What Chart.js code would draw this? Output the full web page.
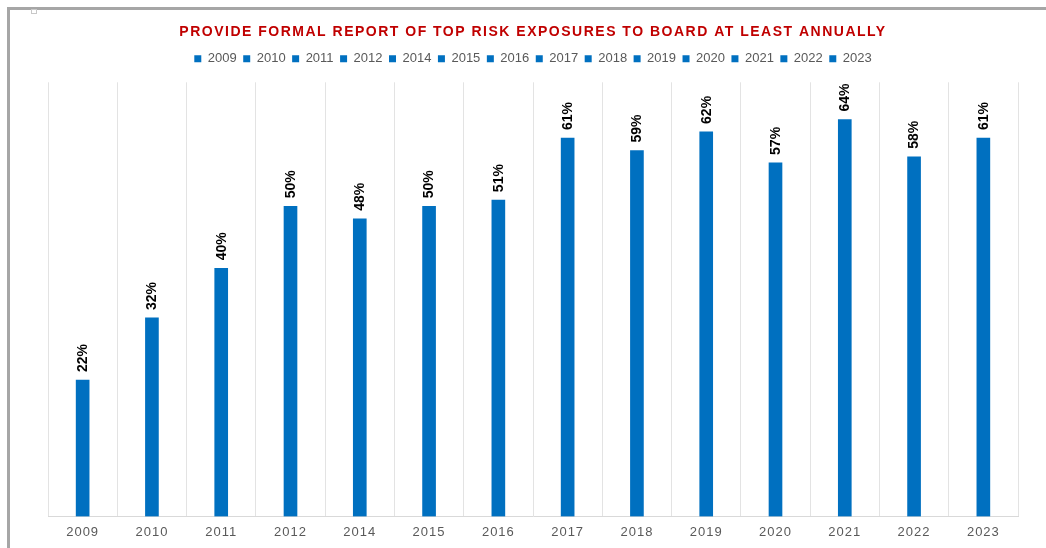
<!DOCTYPE html>
<html>
<head>
<meta charset="utf-8">
<script src="https://cdn.jsdelivr.net/npm/chart.js@4/dist/chart.umd.min.js"></script>
<style>
  html, body { margin: 0; padding: 0; background: #fff; }
  #wrap { position: relative; width: 1046px; height: 548px; overflow: hidden; }
  #frame { position: absolute; left: 7px; top: 7px; width: 1046px; height: 548px;
           border-top: 3px solid #a6a6a6; border-left: 3px solid #a6a6a6; box-sizing: border-box; }
  #handle { position: absolute; left: 31px; top: 9px; width: 4px; height: 3px; border: 1px solid #c8c8c8; background: #fff; }
  canvas { position: absolute; left: 0; top: 0; }
</style>
</head>
<body>
<div id="wrap">
  <div id="frame"></div>
  <div id="handle"></div>
  <canvas id="c" width="1046" height="548"></canvas>
</div>
<script>
const categories = ['2009','2010','2011','2012','2014','2015','2016','2017','2018','2019','2020','2021','2022','2023'];
const values = [22, 32, 40, 50, 48, 50, 51, 61, 59, 62, 57, 64, 58, 61];
const titleText = 'PROVIDE FORMAL REPORT OF TOP RISK EXPOSURES TO BOARD AT LEAST ANNUALLY';

const BLUE = '#0070C0';
const FONT = 'Arial, "Liberation Sans", sans-serif';

const datasets = categories.map((c, i) => ({
  label: c,
  data: categories.map((_, j) => (j === i ? values[i] : null)),
  backgroundColor: BLUE,
  borderWidth: 0,
  barThickness: 13,
  grouped: false
}));

const legendMargin = {
  id: 'legendMargin',
  beforeInit(chart) {
    const lg = chart.legend;
    if (!lg) return;
    const f = lg.fit;
    lg.fit = function () { f.bind(lg)(); this.height += 7; };
  }
};

const spacingPlugin = {
  id: 'spacing',
  beforeDraw(chart) {
    if (chart.$spacingWrapped) return;
    chart.$spacingWrapped = true;
    const ctx = chart.ctx;
    const tb = chart.titleBlock;
    if (tb) {
      const d = tb.draw.bind(tb);
      tb.draw = function (a) { ctx.save(); ctx.letterSpacing = '1.5px'; d(a); ctx.restore(); };
    }
    const xs = chart.scales.x;
    const dl = xs.drawLabels.bind(xs);
    xs.drawLabels = function (a) { ctx.save(); ctx.letterSpacing = '1px'; dl(a); ctx.restore(); };
  }
};

const labelPlugin = {
  id: 'barLabels',
  afterDatasetsDraw(chart) {
    const ctx = chart.ctx;
    ctx.save();
    ctx.font = 'bold 14px ' + FONT;
    ctx.fillStyle = '#000';
    ctx.textAlign = 'left';
    ctx.textBaseline = 'middle';
    chart.data.datasets.forEach((ds, di) => {
      const meta = chart.getDatasetMeta(di);
      meta.data.forEach((el, j) => {
        const v = ds.data[j];
        if (v === null || v === undefined) return;
        ctx.save();
        ctx.translate(el.x + 0.5, el.y - 8);
        ctx.rotate(-Math.PI / 2);
        ctx.fillText(v + '%', 0, 0);
        ctx.restore();
      });
    });
    ctx.restore();
  }
};

new Chart(document.getElementById('c'), {
  type: 'bar',
  data: { labels: categories, datasets },
  options: {
    responsive: false,
    animation: false,
    layout: { padding: { left: 48, right: 28, top: 0, bottom: 0 } },
    plugins: {
      title: {
        display: true,
        text: titleText,
        color: '#C00000',
        font: { family: FONT, size: 14, weight: 'bold' },
        padding: { top: 24, bottom: 5 }
      },
      legend: {
        display: true,
        labels: {
          color: '#595959',
          font: { family: FONT, size: 13 },
          boxWidth: 7,
          boxHeight: 7,
          padding: 6.5
        }
      },
      tooltip: { enabled: false }
    },
    scales: {
      x: {
        grid: { color: '#e3e3e3', drawTicks: false, offset: true },
        border: { color: '#d9d9d9' },
        ticks: { color: '#595959', font: { family: FONT, size: 13 }, padding: 8 }
      },
      y: { display: false, min: 0, max: 70 }
    }
  },
  plugins: [legendMargin, spacingPlugin, labelPlugin]
});
</script>
</body>
</html>
